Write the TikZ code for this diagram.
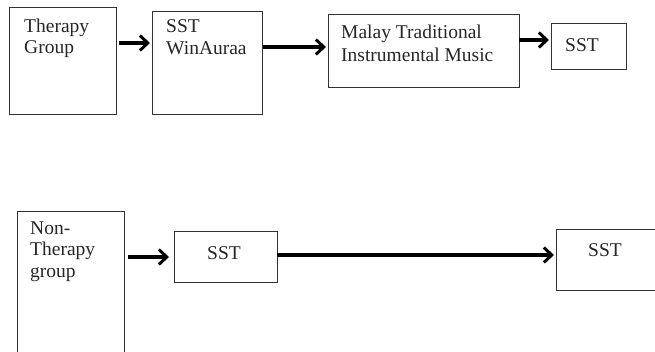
\documentclass[tikz,border=0pt]{standalone}
\usepackage{fontspec}
\setmainfont{Liberation Serif}
\usetikzlibrary{arrows.meta}
\begin{document}
\begin{tikzpicture}[x=1pt,y=-1pt,
  box/.style={draw=black!80, line width=1pt, rectangle, anchor=north west, inner sep=0pt, outer sep=0pt},
  txt/.style={anchor=base west, inner sep=0pt, font=\fontsize{19.5}{21}\selectfont, text=black!85},
  arr/.style={line width=3.4pt, -{Straight Barb[length=8pt,width=15pt,line width=3pt]}}]
\useasboundingbox (0,0) rectangle (655,352);
\clip (0,0) rectangle (655,352);
% top row
\node[box, minimum width=107pt, minimum height=107pt] (b1) at (9,8) {};
\node[box, minimum width=110pt, minimum height=103pt] (b2) at (152,12) {};
\node[box, minimum width=191pt, minimum height=73pt] (b3) at (328,15) {};
\node[box, minimum width=75pt, minimum height=46pt] (b4) at (551,24) {};
\node[txt] (t1a) at (24,33) {Therapy};
\node[txt] (t1b) at (24,54) {Group};
\node[txt] (t2a) at (166,33) {SST};
\node[txt] (t2b) at (166,55) {WinAuraa};
\node[txt] (t3a) at (341,39) {Malay Traditional};
\node[txt] (t3b) at (341,62) {Instrumental Music};
\node[txt] (t4) at (565,52) {SST};
% bottom row
\node[box, minimum width=107pt, minimum height=160pt] (b5) at (17,212) {};
\node[box, minimum width=103pt, minimum height=51pt] (b6) at (174,232) {};
\node[box, minimum width=120pt, minimum height=60pt] (b7) at (556,230) {};
\node[txt] (t5a) at (30,235) {Non-};
\node[txt] (t5b) at (30,256) {Therapy};
\node[txt] (t5c) at (30,277) {group};
\node[txt] (t6) at (207,260) {SST};
\node[txt] (t7) at (588,257) {SST};
% arrows
\draw[arr, shorten <=3pt, shorten >=2pt] (b1.east |- 0,43) -- (b2.west |- 0,43);
\draw[arr, shorten <=1pt, shorten >=2pt] (b2.east |- 0,47) -- (b3.west |- 0,47);
\draw[arr, shorten >=2pt] (b3.east |- 0,40) -- (b4.west |- 0,40);
\draw[arr, shorten <=4pt, shorten >=5pt] (b5.east |- 0,257) -- (b6.west |- 0,257);
\draw[arr, shorten >=2pt] (b6.east |- 0,255) -- (b7.west |- 0,255);
\end{tikzpicture}
\end{document}
